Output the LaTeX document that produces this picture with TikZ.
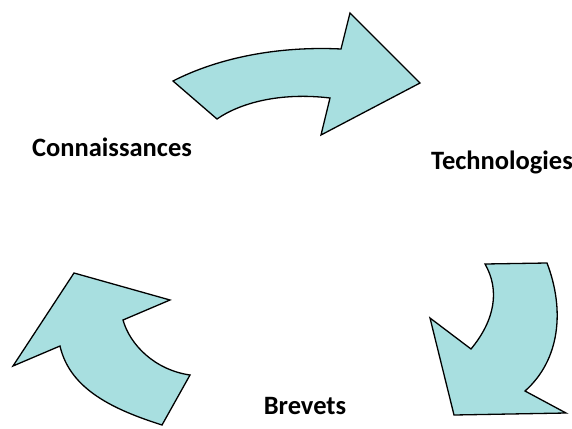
\documentclass[tikz,border=0pt]{standalone}
\usepackage{fontspec}
\setmainfont{Carlito}
\definecolor{arrowfill}{HTML}{A8DFE0}
\begin{document}
\begin{tikzpicture}[x=1pt,y=-1pt,
  arrowshape/.style={fill=arrowfill,draw=black,line width=1.3pt,line join=miter},
  lbl/.style={font=\fontsize{26.5}{30}\selectfont\bfseries,inner sep=0pt}]
\useasboundingbox (0,0) rectangle (572,428);
% top arrow
\draw[arrowshape] (173,81) .. controls (220,57) and (280,46) .. (341,49)
  -- (350,13) -- (420,83) -- (321,135) -- (330,98)
  .. controls (280,92) and (240,103) .. (217,119) -- cycle;
% bottom-right arrow
\draw[arrowshape] (485,264) -- (547,263)
  .. controls (565,310) and (560,360) .. (525,391)
  -- (566,413) -- (454,415) -- (430,318) -- (471,349)
  .. controls (495,320) and (500,290) .. (485,264) -- cycle;
% bottom-left arrow
\draw[arrowshape] (162,425) .. controls (115,410) and (70,390) .. (60,346)
  -- (13,366) -- (74,273) -- (170,300) -- (123,320)
  .. controls (130,345) and (155,370) .. (190,375) -- cycle;
\node[lbl] (c) at (112,147) {Connaissances};
\node[lbl] (t) at (502,162) {Technologies};
\node[lbl] (b) at (305,406) {Brevets};
\end{tikzpicture}
\end{document}
